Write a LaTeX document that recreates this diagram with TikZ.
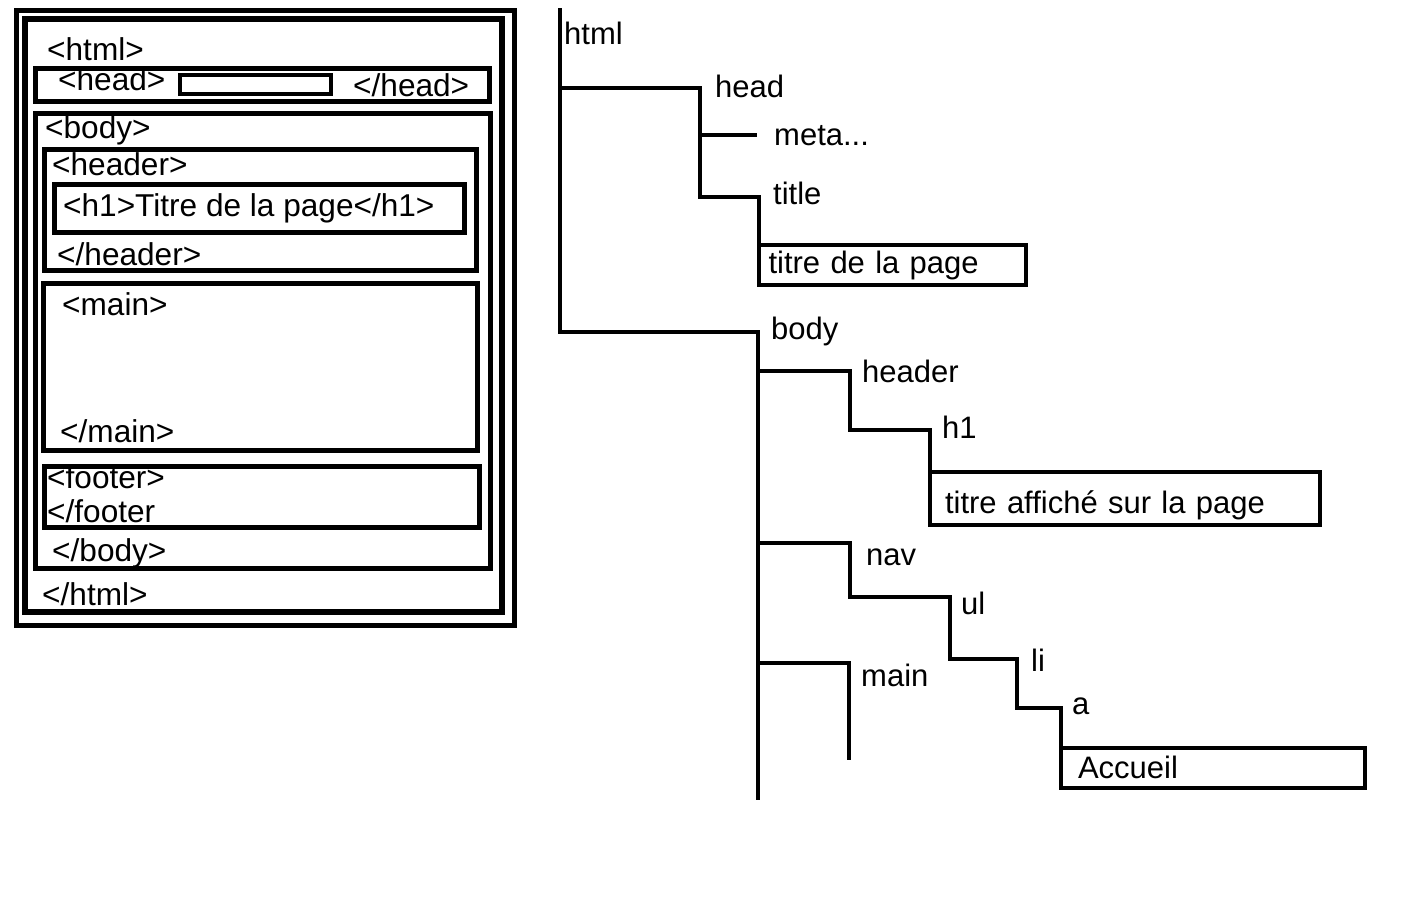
\documentclass[tikz,border=0pt]{standalone}
\usepackage{fontspec}
\setmainfont{Liberation Sans}
\begin{document}
\begin{tikzpicture}[x=1pt,y=-1pt,
    tag/.style={anchor=base west, inner sep=0pt, font=\fontsize{31}{31}\selectfont},
    pagetag/.style={tag, font=\fontsize{31.6}{31.6}\selectfont},
    frame/.style={line width=5pt},
    branch/.style={line width=4pt},
    leaf/.style={draw, line width=4pt, anchor=base west, align=left,
                 inner ysep=0pt, outer sep=0pt, font=\fontsize{31}{31}\selectfont}]
\useasboundingbox (0,0) rectangle (1416,922);

% nested boxes of the page
\draw[frame] (16.5,10.5) rectangle (514.5,625);
\draw[line width=6pt] (25,19) rectangle (501.5,612);
\node[pagetag] (ohtml) at (47,60) {<html>};
\draw[frame] (35.5,68.5) rectangle (489.5,101.5);
\node[pagetag] (ohead) at (58,90) {<head>};
\draw[line width=4pt] (180,75) rectangle (331,94);
\node[pagetag] (chead) at (353,96) {</head>};
\draw[frame] (35.5,113.5) rectangle (490,568.5);
\node[pagetag] (obody) at (45,138) {<body>};
\draw[frame] (44.5,149.5) rectangle (476,270);
\node[pagetag] (oheader) at (52,175) {<header>};
\draw[frame] (54.5,184.5) rectangle (464,232.5);
\node[pagetag] (oh1) at (63,216) {<h1>Titre de la page</h1>};
\node[pagetag] (cheader) at (57,265) {</header>};
\draw[frame] (43,283) rectangle (477.5,450.5);
\node[pagetag] (omain) at (62,315) {<main>};
\node[pagetag] (cmain) at (60,442) {</main>};
\draw[frame] (44,466.5) rectangle (479,527);
\node[pagetag] (ofooter) at (47,488) {<footer>};
\node[pagetag] (cfooter) at (47,522) {</footer};
\node[pagetag] (cbody) at (52,561) {</body>};
\node[pagetag] (chtml) at (42,605) {</html>};

% tree
\node[tag] (html) at (564,44) {html};
\node[tag] (head) at (715,97) {head};
\node[tag] (meta) at (774,145) {meta...};
\node[tag] (title) at (773,204) {title};
\node[leaf, text width=247pt, inner xsep=10pt, text height=28pt, text depth=12pt]
    (titlebox) at (758.5,273) {titre de la page};
\node[tag] (body) at (771,339) {body};
\node[tag] (header) at (862,382) {header};
\node[tag] (h1) at (942,438) {h1};
\node[leaf, text width=360pt, inner xsep=15pt, text height=41pt, text depth=12pt]
    (h1box) at (930,513) {titre affiché sur la page};
\node[tag] (nav) at (866,565) {nav};
\node[tag] (ul) at (961,614) {ul};
\node[tag] (li) at (1031,671) {li};
\node[tag] (a) at (1072,714) {a};
\node[leaf, text width=270pt, inner xsep=17pt, text height=30pt, text depth=10pt]
    (accbox) at (1061,778) {Accueil};
\node[tag] (main) at (861,686) {main};

\coordinate (root) at (559.5,8);
\coordinate (headk) at (699.5,88);
\coordinate (metak) at (757,135);
\coordinate (titlek) at (758.5,196.5);
\coordinate (bodyk) at (757.5,331.5);
\coordinate (bodyend) at (757.5,800);
\coordinate (headerk) at (850,371);
\coordinate (h1k) at (930,430);
\coordinate (navk) at (850,543);
\coordinate (ulk) at (950,597);
\coordinate (lik) at (1017,659);
\coordinate (ak) at (1061,708);
\coordinate (maink) at (849,663);
\coordinate (mainend) at (849,760);

\draw[branch] (root) -- (root |- bodyk) -- (bodyk) -- (bodyend);
\draw[branch] (root |- headk) -- (headk) -- (headk |- titlek) -- (titlek) -- (titlebox.north west);
\draw[branch] (headk |- metak) -- (metak);
\draw[branch] (bodyk |- headerk) -- (headerk) -- (headerk |- h1k) -- (h1k) -- (h1box.north west);
\draw[branch] (bodyk |- navk) -- (navk) -- (navk |- ulk) -- (ulk) -- (ulk |- lik)
    -- (lik) -- (lik |- ak) -- (ak) -- (accbox.north west);
\draw[branch] (bodyk |- maink) -- (maink) -- (mainend);
\end{tikzpicture}
\end{document}
